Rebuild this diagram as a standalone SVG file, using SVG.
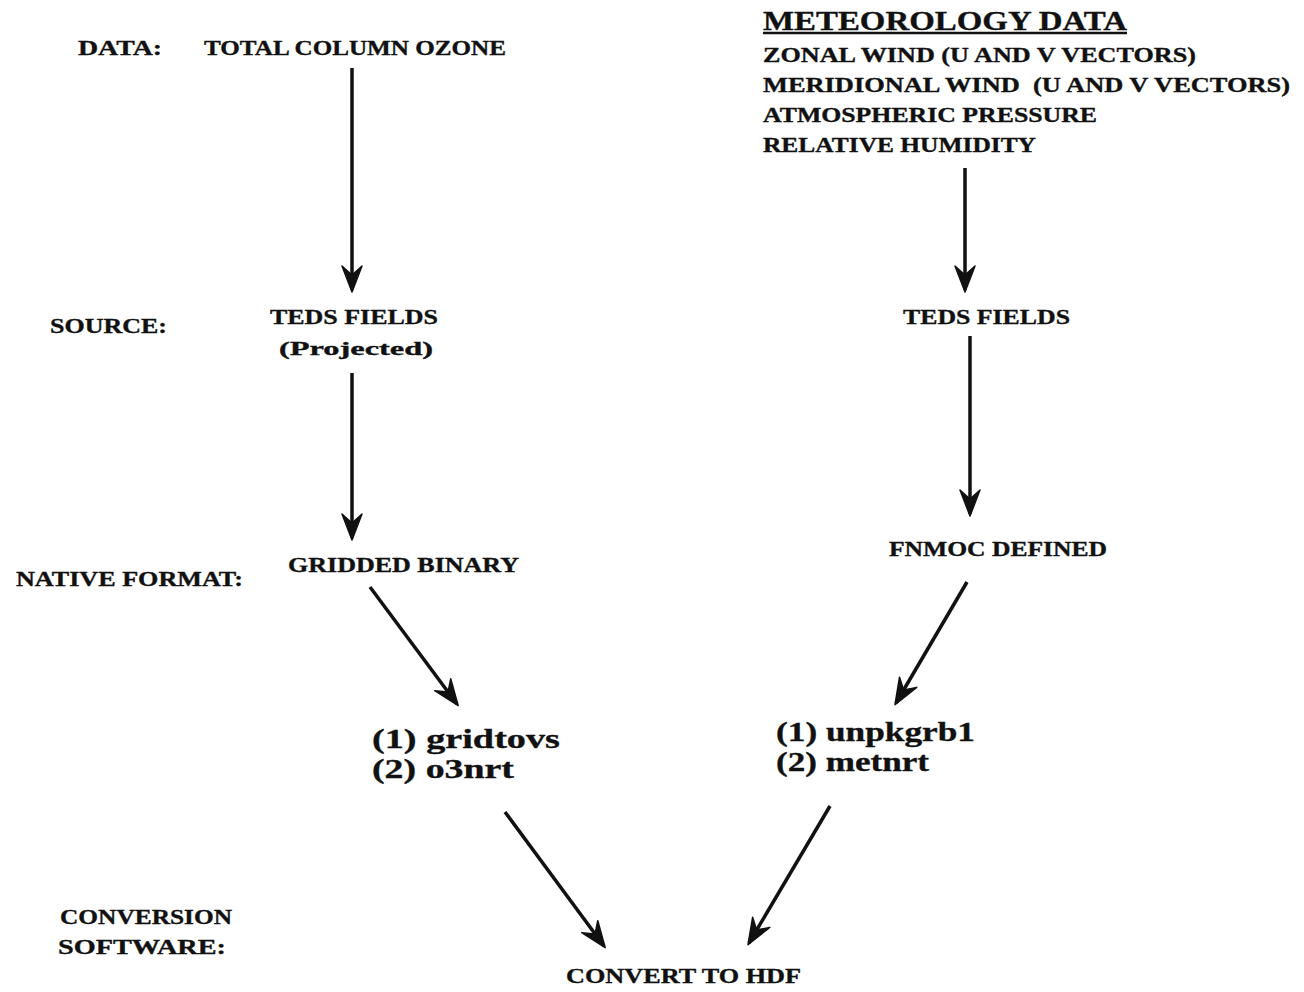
<svg xmlns="http://www.w3.org/2000/svg" width="1304" height="992" viewBox="0 0 1304 992">
<style>
text{font-family:"Liberation Serif","Times New Roman",serif;font-weight:bold;fill:#111;stroke:#111;stroke-width:0.35}
.s{font-size:21.5px}
.p{font-size:19px}
.h{font-size:28px}
.b{font-size:28px}
.c{stroke:#111;stroke-width:3.5;fill:none;marker-end:url(#ah)}
</style>
<defs>
<marker id="ah" viewBox="-26 -13 30 26" refX="0" refY="0" markerWidth="30" markerHeight="26" markerUnits="userSpaceOnUse" orient="auto" overflow="visible">
<path d="M2,0 L-24,-10 L-15,0 L-24,10 Z" fill="#111" stroke="#111" stroke-width="1.5" stroke-linejoin="round"/>
</marker>
</defs>
<rect width="1304" height="992" fill="#fff"/>
<g id="labels">
<text class="s" x="78" y="55" textLength="84" lengthAdjust="spacingAndGlyphs">DATA:</text>
<text class="s" x="50" y="333" textLength="117" lengthAdjust="spacingAndGlyphs">SOURCE:</text>
<text class="s" x="16" y="586" textLength="227" lengthAdjust="spacingAndGlyphs">NATIVE FORMAT:</text>
<text class="s" x="60" y="924" textLength="172" lengthAdjust="spacingAndGlyphs">CONVERSION</text>
<text class="s" x="58" y="954" textLength="168" lengthAdjust="spacingAndGlyphs">SOFTWARE:</text>
</g>
<g id="ozone"><text class="s" x="204" y="55" textLength="302" lengthAdjust="spacingAndGlyphs">TOTAL COLUMN OZONE</text></g>
<g id="met">
<text class="h" x="763" y="30" textLength="364" lengthAdjust="spacingAndGlyphs">METEOROLOGY DATA</text>
<line x1="763" y1="33" x2="1127" y2="33" stroke="#111" stroke-width="2.5"/>
<text class="s" x="763" y="62" textLength="433" lengthAdjust="spacingAndGlyphs">ZONAL WIND (U AND V VECTORS)</text>
<text class="s" x="763" y="92" textLength="527" lengthAdjust="spacingAndGlyphs" xml:space="preserve">MERIDIONAL WIND  (U AND V VECTORS)</text>
<text class="s" x="763" y="122" textLength="334" lengthAdjust="spacingAndGlyphs">ATMOSPHERIC PRESSURE</text>
<text class="s" x="763" y="152" textLength="273" lengthAdjust="spacingAndGlyphs">RELATIVE HUMIDITY</text>
</g>
<g id="teds1">
<text class="s" x="270" y="324" textLength="168" lengthAdjust="spacingAndGlyphs">TEDS FIELDS</text>
<text class="p" x="279" y="355" textLength="154" lengthAdjust="spacingAndGlyphs">(Projected)</text>
</g>
<g id="teds2"><text class="s" x="903" y="324" textLength="167" lengthAdjust="spacingAndGlyphs">TEDS FIELDS</text></g>
<g id="grib"><text class="s" x="288" y="572" textLength="231" lengthAdjust="spacingAndGlyphs">GRIDDED BINARY</text></g>
<g id="fnmoc"><text class="s" x="889" y="556" textLength="218" lengthAdjust="spacingAndGlyphs">FNMOC DEFINED</text></g>
<g id="sw1">
<text class="b" x="372" y="748" textLength="188" lengthAdjust="spacingAndGlyphs">(1) gridtovs</text>
<text class="b" x="372" y="778" textLength="142" lengthAdjust="spacingAndGlyphs">(2) o3nrt</text>
</g>
<g id="sw2">
<text class="b" x="776" y="741" textLength="199" lengthAdjust="spacingAndGlyphs">(1) unpkgrb1</text>
<text class="b" x="776" y="771" textLength="153" lengthAdjust="spacingAndGlyphs">(2) metnrt</text>
</g>
<g id="hdf"><text class="s" x="566" y="983" textLength="235" lengthAdjust="spacingAndGlyphs">CONVERT TO HDF</text></g>
<g id="connectors">
<line class="c" x1="352" y1="68" x2="352" y2="290"/>
<line class="c" x1="352" y1="373" x2="352" y2="538"/>
<line class="c" x1="965" y1="168" x2="965" y2="290"/>
<line class="c" x1="970" y1="336" x2="970" y2="514"/>
<line class="c" x1="370" y1="587" x2="457" y2="704"/>
<line class="c" x1="967" y1="582" x2="896" y2="703"/>
<line class="c" x1="505" y1="812" x2="604" y2="946"/>
<line class="c" x1="830" y1="806" x2="749" y2="943"/>
</g>
</svg>
